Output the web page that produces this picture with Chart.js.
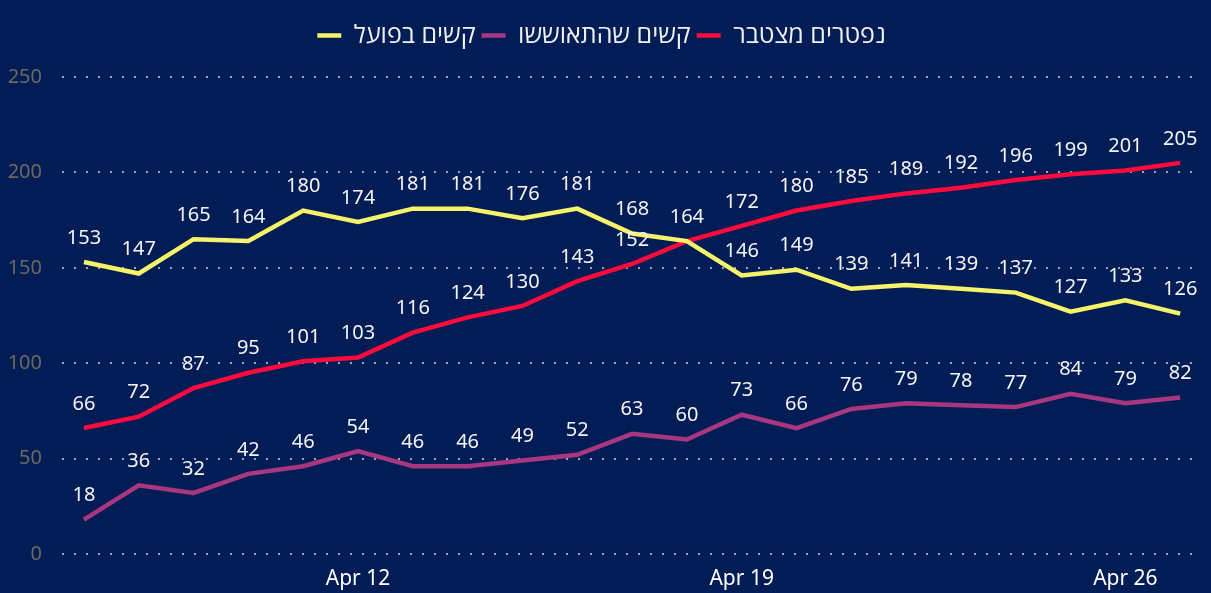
<!DOCTYPE html>
<html>
<head>
<meta charset="utf-8">
<script src="https://cdn.jsdelivr.net/npm/chart.js@4/dist/chart.umd.min.js"></script>
<style>
  html, body { margin: 0; padding: 0; background: #021c55; }
  #wrap { width: 1211px; height: 593px; }
</style>
</head>
<body>
<div id="wrap"><canvas id="chart"></canvas></div>
<script>
  const dates = ['Apr 7', 'Apr 8', 'Apr 9', 'Apr 10', 'Apr 11', 'Apr 12', 'Apr 13', 'Apr 14', 'Apr 15', 'Apr 16',
    'Apr 17', 'Apr 18', 'Apr 19', 'Apr 20', 'Apr 21', 'Apr 22', 'Apr 23', 'Apr 24', 'Apr 25', 'Apr 26', 'Apr 27'];
  const shownDates = ['Apr 12', 'Apr 19', 'Apr 26'];
  const yTicks = [0, 50, 100, 150, 200, 250];

  const seriesNames = ['קשים בפועל', 'קשים שהתאוששו', 'נפטרים מצטבר'];
  const severeNow = [153, 147, 165, 164, 180, 174, 181, 181, 176, 181, 168, 164, 146, 149, 139, 141, 139, 137, 127, 133, 126];
  const recovered = [18, 36, 32, 42, 46, 54, 46, 46, 49, 52, 63, 60, 73, 66, 76, 79, 78, 77, 84, 79, 82];
  const deaths = [66, 72, 87, 95, 101, 103, 116, 124, 130, 143, 152, 164, 172, 180, 185, 189, 192, 196, 199, 201, 205];

  // labels hidden where two series overlap (dataset index, point index)
  const hiddenLabels = [[2, 11]];

  const colors = ['#f6f36a', '#a8377f', '#ff0a3d'];
  const baseFont = '"Segoe UI", "Noto Sans", "Open Sans", "DejaVu Sans", sans-serif';

  function toPoints(arr) {
    return arr.map((v, i) => ({ x: i, y: v }));
  }

  // value above every point
  const valueLabels = {
    id: 'valueLabels',
    afterDatasetsDraw(chart) {
      const ctx = chart.ctx;
      ctx.save();
      ctx.font = '20px ' + baseFont;
      ctx.fillStyle = '#f4f4f4';
      ctx.textAlign = 'center';
      ctx.textBaseline = 'middle';
      chart.data.datasets.forEach((ds, di) => {
        const meta = chart.getDatasetMeta(di);
        meta.data.forEach((pt, i) => {
          if (hiddenLabels.some(h => h[0] === di && h[1] === i)) return;
          ctx.fillText(String(ds.data[i].y), pt.x, pt.y - 24);
        });
      });
      ctx.restore();
    }
  };

  // extra room under the legend
  const legendSpacer = {
    id: 'legendSpacer',
    beforeInit(chart) {
      const fit = chart.legend.fit;
      chart.legend.fit = function() {
        fit.call(this);
        this.height += 19;
      };
    }
  };

  const datasets = [severeNow, recovered, deaths].map((arr, i) => ({
    label: seriesNames[i],
    data: toPoints(arr),
    borderColor: colors[i],
    backgroundColor: colors[i],
    borderWidth: 4.5,
    pointRadius: 0,
    tension: 0
  }));

  new Chart(document.getElementById('chart'), {
    type: 'line',
    data: { datasets: datasets },
    plugins: [valueLabels, legendSpacer],
    options: {
      responsive: true,
      maintainAspectRatio: false,
      animation: false,
      layout: { padding: { left: 8, right: 16, top: 17, bottom: 2 } },
      plugins: {
        tooltip: { enabled: false },
        legend: {
          position: 'top',
          labels: {
            color: '#f0f0f0',
            font: { size: 25, family: baseFont },
            usePointStyle: true,
            pointStyle: 'line',
            pointStyleWidth: 24,
            padding: 6
          }
        }
      },
      scales: {
        x: {
          type: 'linear',
          min: -0.4,
          max: 20.27,
          afterBuildTicks(scale) {
            scale.ticks = shownDates.map(d => ({ value: dates.indexOf(d) }));
          },
          afterFit(scale) {
            scale.height = 37;
          },
          ticks: {
            color: '#ffffff',
            font: { size: 21, family: baseFont },
            maxRotation: 0,
            padding: 12,
            callback: (v) => dates[v]
          },
          grid: { display: false, drawTicks: false },
          border: { display: false }
        },
        y: {
          min: 0,
          max: 250,
          afterBuildTicks(scale) {
            scale.ticks = yTicks.map(v => ({ value: v }));
          },
          afterFit(scale) {
            scale.width = 54;
          },
          ticks: {
            color: '#6c6a5e',
            font: { size: 20, family: baseFont },
            padding: 20
          },
          grid: {
            color: '#9da2b4',
            lineWidth: 2,
            drawTicks: false
          },
          border: { display: false, dash: [2, 10] }
        }
      }
    }
  });
</script>
</body>
</html>
